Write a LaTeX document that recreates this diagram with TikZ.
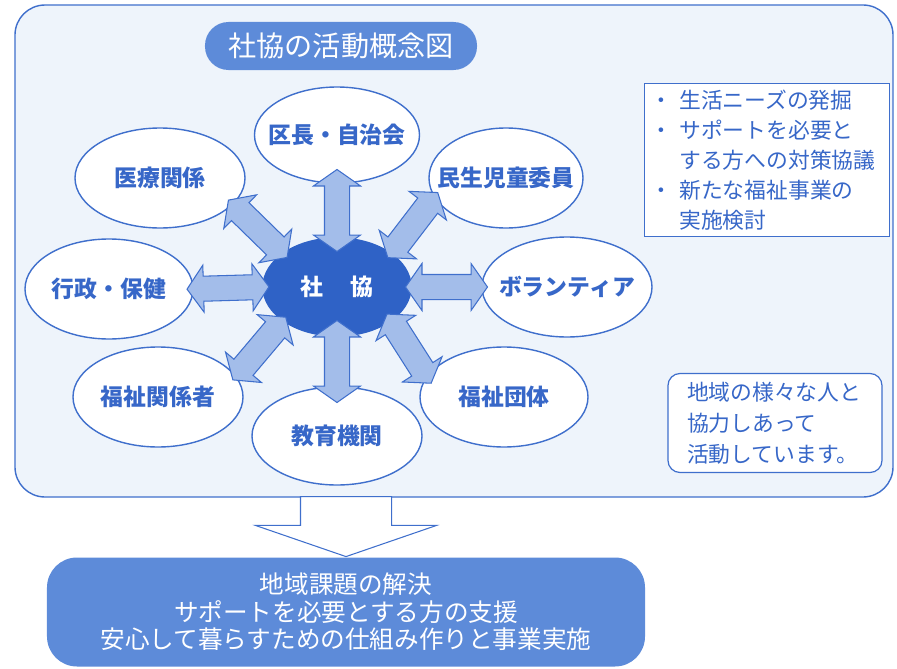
\documentclass[tikz,border=0pt]{standalone}
\usepackage{fontspec}
\setmainfont{Noto Sans CJK JP}
\usepackage{tikz}
\usetikzlibrary{shapes.geometric,shapes.arrows}
\definecolor{lineblue}{HTML}{3F6FCC}
\definecolor{textblue}{HTML}{3767C8}
\definecolor{hubblue}{HTML}{2F62C6}
\definecolor{midblue}{HTML}{5D8BD9}
\definecolor{arrowfill}{HTML}{A3BDEA}
\definecolor{panelfill}{HTML}{EEF4FB}
\tikzset{
  panel/.style={draw=lineblue, line width=0.8pt, fill=panelfill, rounded corners=6mm,
    minimum width=175.6mm, minimum height=98.4mm},
  titlebox/.style={fill=midblue, rounded corners=4.7mm, minimum width=54.4mm, minimum height=9.6mm,
    text=white, font=\fontsize{16}{18}\selectfont},
  party/.style={ellipse, draw=lineblue, line width=0.8pt, fill=white, inner xsep=-10pt, inner ysep=-4pt,
    text=textblue, font=\bfseries\fontsize{13}{15}\selectfont, minimum width=34mm, minimum height=20mm},
  hubnode/.style={party, draw=hubblue, fill=hubblue, text=white, minimum width=29.6mm, minimum height=19.6mm},
  link/.style={double arrow, draw=lineblue, line width=0.6pt, fill=arrowfill, inner xsep=0pt, inner ysep=2.4mm,
    double arrow head extend=2.2mm, double arrow tip angle=110, minimum height=16.4mm, sloped},
  infobox/.style={draw=lineblue, line width=0.7pt, fill=white, text=textblue, align=left,
    font=\fontsize{12.4}{17}\selectfont, text width=46.6mm, inner xsep=1.2mm, minimum height=30.6mm},
  notebox/.style={draw=lineblue, line width=0.7pt, fill=white, rounded corners=2.4mm, text=textblue, align=left,
    font=\fontsize{12.4}{17.6}\selectfont, text width=35.2mm, inner xsep=3.8mm, inner ysep=1mm, minimum height=19.8mm},
  resultbox/.style={fill=midblue, rounded corners=6mm, minimum width=119.6mm, minimum height=21.8mm,
    text=white, align=center, font=\fontsize{14}{15.6}\selectfont},
  flowarrow/.style={single arrow, draw=lineblue, line width=0.6pt, fill=white, inner xsep=0pt, inner ysep=9mm,
    single arrow head extend=9mm, single arrow tip angle=142, minimum height=12mm}
}

\begin{document}
\begin{tikzpicture}[x=0.2mm, y=-0.2mm]
\useasboundingbox (0,0) rectangle (897,669);
\node[panel] (panel) at (454,251) {};
\node[titlebox] (title) at (341,46) {社協の活動概念図};
\node[party, minimum width=33mm, minimum height=19.2mm] (kucho) at (337,135) {区長・自治会};
\node[party] (iryo) at (160,178) {医療関係};
\node[party, minimum width=30.8mm] (minsei) at (506,178) {民生児童委員};
\node[party, minimum width=33.6mm] (gyosei) at (109,289) {行政・保健};
\node[party] (volunteer) at (567,287) {ボランティア};
\node[party] (fkankei) at (158,397) {福祉関係者};
\node[party, minimum height=19.6mm] (kyoiku) at (337,436) {教育機関};
\node[party, minimum width=33.6mm] (fdantai) at (504,397) {福祉団体};
\node[hubnode] (hub) at (337,287) {社\hspace{1.2em}協};
\path
(hub.90) edge node[link]{} (kucho.-90)
(hub.148) edge node[link]{} (iryo.-20)
(hub.32) edge node[link]{} (minsei.195)
(hub.180) edge node[link]{} (gyosei.0)
(hub.0) edge node[link]{} (volunteer.180)
(hub.212) edge node[link]{} (fkankei.15)
(hub.-32) edge node[link]{} (fdantai.165)
(hub.-90) edge node[link]{} (kyoiku.90);
\node[infobox] (tasks) at (767,160) {・\hspace{4pt}生活ニーズの発掘\\・\hspace{4pt}サポートを必要と\\\phantom{・}\hspace{4pt}する方への対策協議\\・\hspace{4pt}新たな福祉事業の\\\phantom{・}\hspace{4pt}実施検討};
\node[notebox] (note) at (775,423) {地域の様々な人と\\協力しあって\\活動しています。};
\node[resultbox] (result) at (346,612) {地域課題の解決\\サポートを必要とする方の支援\\安心して暮らすための仕組み作りと事業実施};
\node[flowarrow, rotate=-90, anchor=tip] (flow) at (result.north) {};
\end{tikzpicture}
\end{document}
